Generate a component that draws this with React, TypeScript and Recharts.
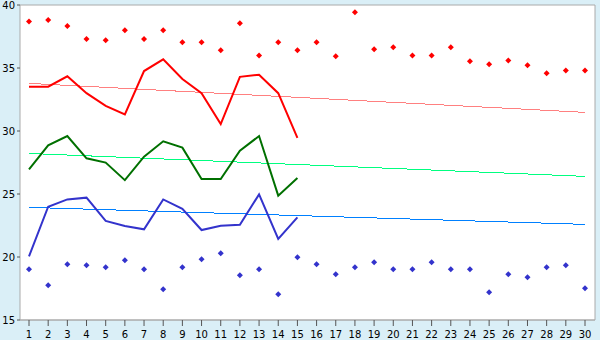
import React from 'react';
import { ComposedChart, Line, XAxis, YAxis, CartesianGrid } from 'recharts';

const days = ['1','2','3','4','5','6','7','8','9','10','11','12','13','14','15','16','17','18','19','20','21','22','23','24','25','26','27','28','29','30'];
const maxPoints = [38.7, 38.8, 38.33, 37.3, 37.2, 38.0, 37.3, 38.0, 37.04, 37.04, 36.4, 38.55, 36.0, 37.04, 36.4, 37.04, 35.93, 39.42, 36.48, 36.64, 36.0, 36.0, 36.64, 35.53, 35.29, 35.6, 35.21, 34.58, 34.8, 34.8];
const minPoints = [19.02, 17.75, 19.42, 19.34, 19.18, 19.74, 19.02, 17.44, 19.18, 19.82, 20.29, 18.55, 19.02, 17.04, 19.98, 19.42, 18.63, 19.18, 19.58, 19.02, 19.02, 19.58, 19.02, 19.02, 17.2, 18.63, 18.39, 19.18, 19.34, 17.52];
const redLine = [33.52, 33.52, 34.34, 33.0, 32.0, 31.32, 34.76, 35.69, 34.13, 33.0, 30.55, 34.3, 34.47, 33.0, 29.45];
const greenLine = [26.96, 28.86, 29.6, 27.83, 27.49, 26.1, 27.96, 29.18, 28.68, 26.19, 26.19, 28.44, 29.6, 24.87, 26.27];
const blueLine = [20.05, 23.99, 24.57, 24.71, 22.86, 22.46, 22.2, 24.57, 23.83, 22.14, 22.48, 22.56, 24.97, 21.43, 23.15];
const redTrend = [33.78, 31.48];
const greenTrend = [28.22, 26.4];
const blueTrend = [23.94, 22.59];
const yTicks = [15, 20, 25, 30, 35, 40];

const last = days.length - 1;
const endVal = (arr: number[], i: number) => (i === 0 ? arr[0] : i === last ? arr[1] : null);

const data = days.map((d, i) => ({
  day: d,
  max: maxPoints[i],
  min: minPoints[i],
  red: i < redLine.length ? redLine[i] : null,
  green: i < greenLine.length ? greenLine[i] : null,
  blue: i < blueLine.length ? blueLine[i] : null,
  redT: endVal(redTrend, i),
  greenT: endVal(greenTrend, i),
  blueT: endVal(blueTrend, i),
}));

const makeDiamond = (color: string) => (props: any) => {
  const { cx, cy, index } = props;
  if (cx == null || cy == null) return <g key={index} />;
  const r = 3;
  return (
    <polygon
      key={index}
      points={`${cx},${cy - r} ${cx + r},${cy} ${cx},${cy + r} ${cx - r},${cy}`}
      fill={color}
      stroke="none"
    />
  );
};

const tickStyle = { fontFamily: 'DejaVu Sans', fontSize: 10, fill: '#000' };

export default function App() {
  return (
    <div style={{ position: 'fixed', left: 0, top: 0, width: 600, height: 340, background: '#daeff7' }}>
      <ComposedChart width={600} height={340} data={data} margin={{ top: 5, right: 0, bottom: 0, left: 0 }}>
        <CartesianGrid fill="#ffffff" stroke="#aaaaaa" vertical={false} />
        <XAxis
          dataKey="day"
          interval={0}
          padding={{ left: 9, right: 10 }}
          height={20}
          tickSize={6}
          tickMargin={5}
          stroke="#aaaaaa"
          tick={tickStyle}
          tickLine={{ stroke: '#555' }}
        />
        <YAxis
          yAxisId="l"
          domain={[15, 40]}
          ticks={yTicks}
          width={20}
          tickSize={3}
          tickMargin={2}
          stroke="#aaaaaa"
          tick={tickStyle}
          tickLine={{ stroke: '#555' }}
        />
        <YAxis yAxisId="r" orientation="right" domain={[15, 40]} width={5} tick={false} tickLine={false} stroke="#aaaaaa" />
        <Line yAxisId="l" dataKey="redT" stroke="#ff8080" strokeWidth={1} dot={false} connectNulls isAnimationActive={false} style={{ shapeRendering: 'crispEdges' }} />
        <Line yAxisId="l" dataKey="greenT" stroke="#00ff80" strokeWidth={1} dot={false} connectNulls isAnimationActive={false} style={{ shapeRendering: 'crispEdges' }} />
        <Line yAxisId="l" dataKey="blueT" stroke="#0080ff" strokeWidth={1} dot={false} connectNulls isAnimationActive={false} style={{ shapeRendering: 'crispEdges' }} />
        <Line yAxisId="l" dataKey="red" stroke="#ff0000" strokeWidth={2} dot={false} isAnimationActive={false} />
        <Line yAxisId="l" dataKey="green" stroke="#007000" strokeWidth={2} dot={false} isAnimationActive={false} />
        <Line yAxisId="l" dataKey="blue" stroke="#3333cc" strokeWidth={2} dot={false} isAnimationActive={false} />
        <Line yAxisId="l" dataKey="max" stroke="none" dot={makeDiamond('#ff0000')} activeDot={false} isAnimationActive={false} />
        <Line yAxisId="l" dataKey="min" stroke="none" dot={makeDiamond('#3333cc')} activeDot={false} isAnimationActive={false} />
      </ComposedChart>
    </div>
  );
}
